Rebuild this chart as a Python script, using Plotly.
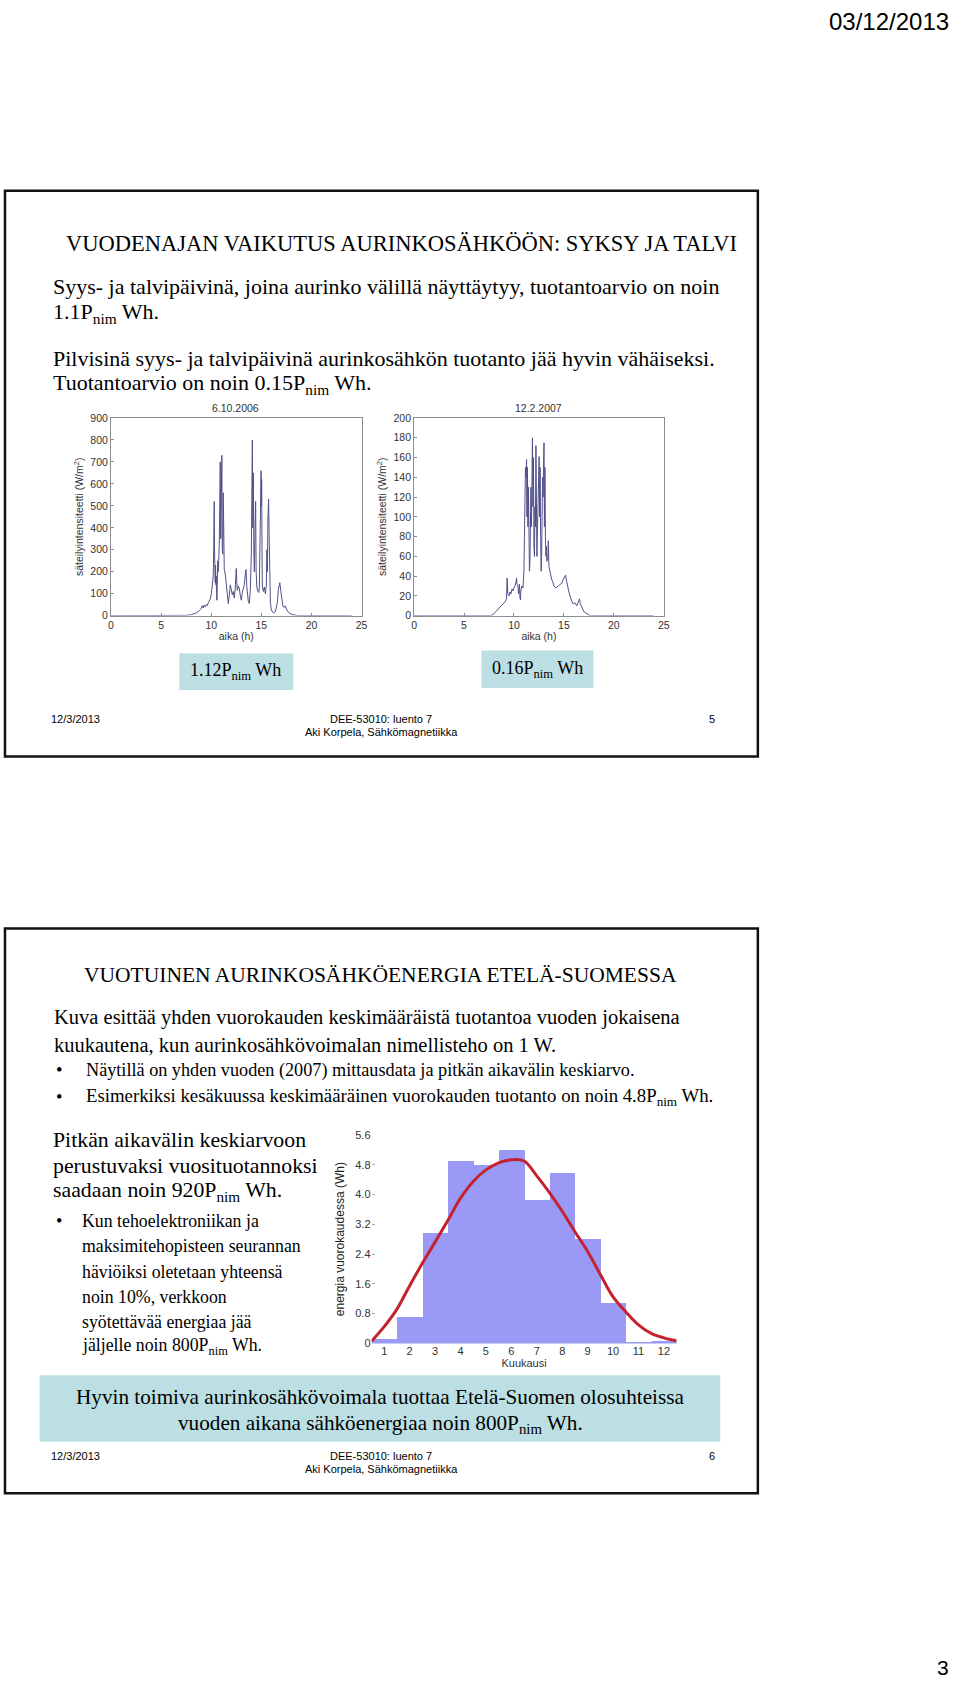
import plotly.graph_objects as go

# ---------------- data ----------------
# Chart 1: 6.10.2006 irradiance (W/m2) vs time (h)
t1 = [0, 7.0, 7.5, 8.0, 8.5, 8.8, 9.0, 9.1, 9.2, 9.3, 9.4, 9.5, 9.6, 9.7, 9.8, 9.9,
      10.0, 10.1, 10.2, 10.25, 10.3, 10.33, 10.37, 10.4, 10.43, 10.47, 10.5, 10.53, 10.57,
      10.6, 10.65, 10.7, 10.75, 10.8, 10.85, 10.9, 10.95, 11.0, 11.06, 11.1, 11.15, 11.2,
      11.25, 11.3, 11.4, 11.5, 11.6, 11.7, 11.8, 11.9, 12.0, 12.1, 12.2, 12.3, 12.4, 12.5,
      12.55, 12.6, 12.7, 12.8, 12.9, 13.0, 13.1, 13.2, 13.3, 13.4, 13.47, 13.55, 13.6, 13.7,
      13.8, 13.9, 14.0, 14.05, 14.1, 14.15, 14.2, 14.25, 14.3, 14.35, 14.43, 14.48, 14.55,
      14.65, 14.75, 14.8, 14.85, 14.9, 14.93, 14.97, 15.0, 15.03, 15.07, 15.1, 15.2, 15.3,
      15.4, 15.5, 15.55, 15.6, 15.65, 15.72, 15.77, 15.82, 15.87, 15.9, 16.0, 16.2, 16.4,
      16.6, 16.7, 16.84, 16.95, 17.05, 17.15, 17.3, 17.4, 17.5, 17.7, 18.0, 18.5, 19.0, 24.0]
v1 = [0, 0, 1, 4, 12, 22, 32, 45, 35, 48, 40, 50, 45, 58, 65, 75,
      95, 130, 180, 320, 520, 300, 200, 150, 230, 140, 180, 100, 70,
      140, 250, 200, 250, 320, 500, 700, 350, 600, 730, 300, 280, 560,
      230, 210, 190, 150, 100, 55, 90, 140, 120, 95, 110, 80, 130, 215,
      150, 115, 135, 125, 90, 70, 105, 120, 140, 190, 210, 130, 95, 65,
      55, 120, 280, 700, 800, 400, 650, 300, 200, 350, 520, 200, 130,
      110, 105, 130, 300, 550, 420, 660, 500, 620, 280, 130, 110, 130,
      100, 140, 300, 200, 430, 530, 380, 220, 120, 60, 25, 12, 18,
      60, 120, 150, 110, 60, 42, 38, 45, 30, 15, 6, 1, 0, 0]

# Chart 2: 12.2.2007 irradiance (W/m2) vs time (h)
t2 = [0, 7.7, 8.0, 8.3, 8.6, 8.9, 9.1, 9.25, 9.32, 9.38, 9.5, 9.6, 9.7, 9.8, 9.9, 10.0,
      10.1, 10.2, 10.26, 10.3, 10.4, 10.45, 10.5, 10.55, 10.6, 10.65, 10.7, 10.8, 10.9,
      11.0, 11.05, 11.1, 11.15, 11.2, 11.26, 11.3, 11.35, 11.4, 11.45, 11.5, 11.55, 11.6,
      11.65, 11.7, 11.75, 11.85, 11.9, 11.95, 12.0, 12.05, 12.1, 12.15, 12.2, 12.25, 12.3,
      12.35, 12.4, 12.45, 12.52, 12.57, 12.62, 12.67, 12.72, 12.77, 12.82, 12.87, 12.92,
      12.96, 13.01, 13.05, 13.1, 13.15, 13.2, 13.25, 13.3, 13.4, 13.44, 13.5, 13.6, 13.7,
      13.8, 13.9, 14.0, 14.2, 14.4, 14.6, 14.8, 14.9, 15.0, 15.17, 15.25, 15.35, 15.5,
      15.7, 15.9, 16.1, 16.3, 16.45, 16.56, 16.65, 16.8, 17.0, 17.3, 17.6, 24.0]
v2 = [0, 0, 2, 5, 9, 12, 14, 17, 38, 22, 20, 24, 22, 27, 25, 28,
      30, 34, 38, 32, 30, 22, 28, 32, 18, 16, 26, 30, 28,
      45, 80, 120, 150, 140, 158, 100, 150, 90, 130, 60, 45, 55,
      100, 130, 90, 180, 110, 160, 70, 60, 110, 90, 172, 100, 60,
      85, 120, 140, 161, 100, 150, 80, 45, 60, 100, 140, 120,
      150, 175, 90, 150, 80, 60, 70, 55, 60, 76, 50, 45, 40,
      36, 34, 30, 28, 30, 32, 33, 36, 38, 41, 36, 30, 24,
      17, 12, 13, 10, 14, 17, 12, 8, 4, 2, 0, 0]

# Chart 3: daily energy per month (Wh), measured 2007 and long-term mean
months = [1, 2, 3, 4, 5, 6, 7, 8, 9, 10, 11, 12]
energy_2007 = [0.12, 0.72, 2.96, 4.89, 4.79, 5.21, 3.85, 4.59, 2.80, 1.09, 0.04, 0.06]
mean_x = [0.5, 1.0, 1.5, 2.0, 2.5, 3.0, 3.5, 4.0, 4.5, 5.0, 5.5, 6.0, 6.5,
          7.0, 7.5, 8.0, 8.5, 9.0, 9.5, 10.0, 10.5, 11.0, 11.5, 12.0, 12.5]
mean_y = [0.06, 0.45, 0.92, 1.55, 2.15, 2.72, 3.3, 3.9, 4.35, 4.66, 4.85, 4.93, 4.9,
          4.5, 4.05, 3.55, 3.0, 2.47, 1.85, 1.25, 0.85, 0.5, 0.27, 0.15, 0.07]
y3_ticks = [0, 0.8, 1.6, 2.4, 3.2, 4.0, 4.8, 5.6]
y3_labels = ["0", "0.8", "1.6", "2.4", "3.2", "4.0", "4.8", "5.6"]

# ---------------- layout helpers ----------------
W, H = 960, 1684


def fx(x):
    return x / W


def fy(y):
    return 1 - y / H


SERIF = "Liberation Serif, Times New Roman, serif"
SANS = "Liberation Sans, Arial, sans-serif"

fig = go.Figure()

fig.add_trace(go.Scatter(x=t1, y=v1, mode="lines", xaxis="x", yaxis="y",
                         line=dict(color="#50508a", width=1), hoverinfo="skip"))
fig.add_trace(go.Scatter(x=t2, y=v2, mode="lines", xaxis="x2", yaxis="y2",
                         line=dict(color="#50508a", width=1), hoverinfo="skip"))
fig.add_trace(go.Bar(x=months, y=energy_2007, xaxis="x3", yaxis="y3", width=1,
                     marker=dict(color="#9a9af6", line=dict(width=0)), hoverinfo="skip"))
fig.add_trace(go.Scatter(x=mean_x, y=mean_y, mode="lines", xaxis="x3", yaxis="y3",
                         line=dict(color="#c3222e", width=3, shape="spline"), hoverinfo="skip"))

tickfont = dict(family=SANS, size=10.5, color="#333333")
box_axis = dict(showline=True, mirror=True, linecolor="#8c8c8c", linewidth=1,
                ticks="inside", ticklen=3, tickcolor="#8c8c8c", showgrid=False,
                zeroline=False, tickfont=tickfont)

layout = dict(
    width=W, height=H, margin=dict(l=0, r=0, t=0, b=0),
    paper_bgcolor="white", plot_bgcolor="white", showlegend=False, bargap=0,
    xaxis=dict(domain=[fx(109), fx(362)], range=[0, 25], tickvals=[0, 5, 10, 15, 20, 25],
               anchor="y", title=dict(text="aika (h)", font=dict(family=SANS, size=10.5, color="#333"), standoff=2),
               **box_axis),
    yaxis=dict(domain=[fy(614), fy(415)], range=[0, 900], dtick=100, anchor="x",
               title=dict(text="säteilyintensiteetti (W/m<sup>2</sup>)", font=dict(family=SANS, size=10.5, color="#333"), standoff=4),
               **box_axis),
    xaxis2=dict(domain=[fx(415), fx(667)], range=[0, 25], tickvals=[0, 5, 10, 15, 20, 25],
                anchor="y2", title=dict(text="aika (h)", font=dict(family=SANS, size=10.5, color="#333"), standoff=2),
                **box_axis),
    yaxis2=dict(domain=[fy(614), fy(415)], range=[0, 200], dtick=20, anchor="x2",
                title=dict(text="säteilyintensiteetti (W/m<sup>2</sup>)", font=dict(family=SANS, size=10.5, color="#333"), standoff=4),
                **box_axis),
    xaxis3=dict(domain=[fx(372), fx(680)], range=[0.5, 12.5], tickvals=months, anchor="y3",
                showline=False, ticks="", showgrid=False, zeroline=False,
                tickfont=dict(family=SANS, size=11, color="#333"),
                title=dict(text="Kuukausi", font=dict(family=SANS, size=11, color="#333"), standoff=0)),
    yaxis3=dict(domain=[fy(1347), fy(1137)], range=[0, 5.6], tickvals=y3_ticks, ticktext=y3_labels,
                anchor="x3", showline=False, ticks="inside", ticklen=3, tickcolor="#aaaaaa",
                showgrid=False, zeroline=False, tickfont=dict(family=SANS, size=11, color="#333"),
                title=dict(text="energia vuorokaudessa (Wh)", font=dict(family=SANS, size=12, color="#222"), standoff=8)),
)
fig.update_layout(**layout)

shapes = []
# slide frames
for (x0, y0, x1, y1) in [(2, 186, 762, 756), (2, 929, 762, 1498)]:
    shapes.append(dict(type="rect", xref="paper", yref="paper", x0=fx(x0), y0=fy(y1), x1=fx(x1), y1=fy(y0),
                       line=dict(color="#111111", width=2.5), fillcolor="rgba(0,0,0,0)", layer="below"))
# light blue boxes
for (x0, y0, x1, y1) in [(178, 652, 293, 689), (483, 649, 596, 687), (37, 1379, 724, 1446)]:
    shapes.append(dict(type="rect", xref="paper", yref="paper", x0=fx(x0), y0=fy(y1), x1=fx(x1), y1=fy(y0),
                       line=dict(width=0), fillcolor="#bcdfe3", layer="below"))
fig.update_layout(shapes=shapes)

ann = []


def text(x, y, s, size=19, family=SERIF, anchor="left", color="black"):
    ann.append(dict(x=fx(x), y=fy(y), xref="paper", yref="paper", xanchor=anchor, yanchor="middle",
                    text=s, showarrow=False, font=dict(family=family, size=size, color=color)))


# page
text(957, 16, "03/12/2013", size=24, family=SANS, anchor="right")
text(957, 1673, "3", size=21, family=SANS, anchor="right")

# slide 1
text(62, 239, "VUODENAJAN VAIKUTUS AURINKOSÄHKÖÖN: SYKSY JA TALVI", size=22.5)
text(48, 283, "Syys- ja talvipäivinä, joina aurinko välillä näyttäytyy, tuotantoarvio on noin", size=22)
text(48, 309, "1.1P<sub>nim</sub> Wh.", size=22)
text(48, 355, "Pilvisinä syys- ja talvipäivinä aurinkosähkön tuotanto jää hyvin vähäiseksi.", size=22)
text(48, 381, "Tuotantoarvio on noin 0.15P<sub>nim</sub> Wh.", size=22)
text(235, 405, "6.10.2006", size=10.5, family=SANS, anchor="center", color="#333")
text(541, 405, "12.2.2007", size=10.5, family=SANS, anchor="center", color="#333")
text(235, 670, "1.12P<sub>nim</sub> Wh", size=18, anchor="center")
text(540, 668, "0.16P<sub>nim</sub> Wh", size=18, anchor="center")
text(46, 718, "12/3/2013", size=11, family=SANS)
text(382, 718, "DEE-53010: luento 7", size=11, family=SANS, anchor="center")
text(382, 731, "Aki Korpela, Sähkömagnetiikka", size=11, family=SANS, anchor="center")
text(716, 718, "5", size=11, family=SANS, anchor="center")

# slide 2
text(381, 976, "VUOTUINEN AURINKOSÄHKÖENERGIA ETELÄ-SUOMESSA", size=21.5, anchor="center")
text(49, 1019, "Kuva esittää yhden vuorokauden keskimääräistä tuotantoa vuoden jokaisena", size=20.5)
text(49, 1046, "kuukautena, kun aurinkosähkövoimalan nimellisteho on 1 W.", size=20.5)
text(51, 1072, "•", size=18.5)
text(82, 1072, "Näytillä on yhden vuoden (2007) mittausdata ja pitkän aikavälin keskiarvo.", size=18.2)
text(51, 1099, "•", size=18.5)
text(82, 1099, "Esimerkiksi kesäkuussa keskimääräinen vuorokauden tuotanto on noin 4.8P<sub>nim</sub> Wh.", size=18.8)
text(48, 1142, "Pitkän aikavälin keskiarvoon", size=21.8)
text(48, 1168, "perustuvaksi vuosituotannoksi", size=21.8)
text(48, 1194, "saadaan noin 920P<sub>nim</sub> Wh.", size=21.8)
text(51, 1224, "•", size=18)
for i, s in enumerate(["Kun tehoelektroniikan ja", "maksimitehopisteen seurannan",
                       "häviöiksi oletetaan yhteensä", "noin 10%, verkkoon",
                       "syötettävää energiaa jää", "jäljelle noin 800P<sub>nim</sub> Wh."]):
    text(78, 1224 + i * 25.3, s, size=17.8)
text(381, 1401, "Hyvin toimiva aurinkosähkövoimala tuottaa Etelä-Suomen olosuhteissa", size=21.2, anchor="center")
text(381, 1428, "vuoden aikana sähköenergiaa noin 800P<sub>nim</sub> Wh.", size=21.2, anchor="center")
text(46, 1460, "12/3/2013", size=11, family=SANS)
text(382, 1460, "DEE-53010: luento 7", size=11, family=SANS, anchor="center")
text(382, 1473, "Aki Korpela, Sähkömagnetiikka", size=11, family=SANS, anchor="center")
text(716, 1460, "6", size=11, family=SANS, anchor="center")

fig.update_layout(annotations=ann)
fig.write_html("out.html", config={"displayModeBar": False},
               post_script="document.body.style.margin='0';document.body.style.overflow='hidden';")
